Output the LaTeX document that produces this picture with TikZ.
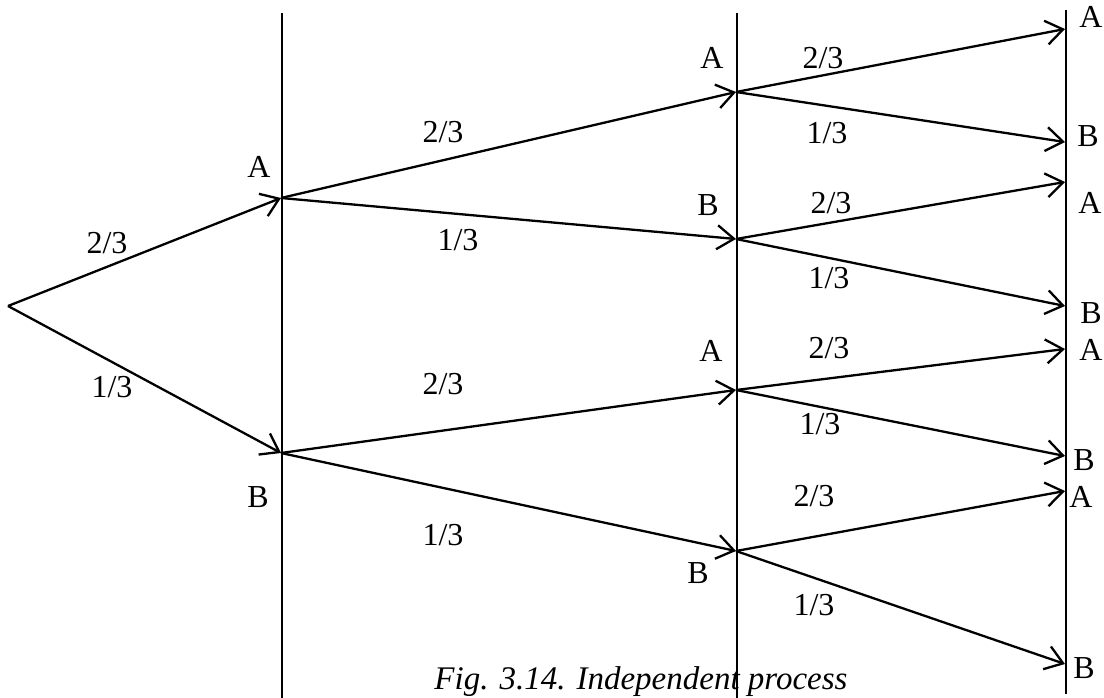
\documentclass[tikz,border=0pt]{standalone}
\usepackage{fontspec}
\setmainfont{Liberation Serif}
\usetikzlibrary{arrows.meta}
\begin{document}
\begin{tikzpicture}[x=1pt,y=-1pt,
  edge/.style={line width=2.3pt,-{Straight Barb[length=17pt,width=24pt,line width=2.3pt]}},
  axis/.style={line width=2pt},
  lbl/.style={font=\fontsize{32}{32}\selectfont,inner sep=0pt},
  captext/.style={font=\fontsize{33}{33}\selectfont\itshape,inner sep=0pt}]
\useasboundingbox (0,0) rectangle (1104,698);
% vertical lines
\coordinate (v1t) at (282,13); \coordinate (v1b) at (282,698);
\coordinate (v2t) at (737,13); \coordinate (v2b) at (737,698);
\coordinate (v3t) at (1066,10); \coordinate (v3b) at (1066,694);
\draw[axis] (v1t) -- (v1b);
\draw[axis] (v2t) -- (v2b);
\draw[axis] (v3t) -- (v3b);
% points
\coordinate (r) at (8,306);
\coordinate (a1) at (281,198);
\coordinate (b1) at (281,453);
\coordinate (aa) at (736,92);
\coordinate (ab) at (736,239);
\coordinate (ba) at (736,390);
\coordinate (bb) at (736,551);
\coordinate (e1) at (1065,29);
\coordinate (e2) at (1065,142);
\coordinate (e3) at (1065,182);
\coordinate (e4) at (1065,306);
\coordinate (e5) at (1065,349);
\coordinate (e6) at (1065,456);
\coordinate (e7) at (1065,491);
\coordinate (e8) at (1065,664);
% edges
\draw[edge] (r) -- (a1);
\draw[edge] (r) -- (b1);
\draw[edge] (a1) -- (aa);
\draw[edge] (a1) -- (ab);
\draw[edge] (b1) -- (ba);
\draw[edge] (b1) -- (bb);
\draw[edge] (aa) -- (e1);
\draw[edge] (aa) -- (e2);
\draw[edge] (ab) -- (e3);
\draw[edge] (ab) -- (e4);
\draw[edge] (ba) -- (e5);
\draw[edge] (ba) -- (e6);
\draw[edge] (bb) -- (e7);
\draw[edge] (bb) -- (e8);
% labels
\node[lbl] (p1) at (107,243) {2/3};
\node[lbl] (p2) at (112,387) {1/3};
\node[lbl] (la1) at (259,167) {A};
\node[lbl] (lb1) at (258,497) {B};
\node[lbl] (p3) at (443,132) {2/3};
\node[lbl] (p4) at (458,240) {1/3};
\node[lbl] (p5) at (443,384) {2/3};
\node[lbl] (p6) at (443,535) {1/3};
\node[lbl] (laa) at (712,58) {A};
\node[lbl] (lab) at (708,205) {B};
\node[lbl] (lba) at (711,351) {A};
\node[lbl] (lbb) at (698,573) {B};
\node[lbl] (q1) at (823,58) {2/3};
\node[lbl] (q2) at (827,133) {1/3};
\node[lbl] (q3) at (831,203) {2/3};
\node[lbl] (q4) at (829,278) {1/3};
\node[lbl] (q5) at (829,348) {2/3};
\node[lbl] (q6) at (820,424) {1/3};
\node[lbl] (q7) at (814,496) {2/3};
\node[lbl] (q8) at (814,605) {1/3};
\node[lbl] (t1) at (1091,17) {A};
\node[lbl] (t2) at (1088,136) {B};
\node[lbl] (t3) at (1090,203) {A};
\node[lbl] (t4) at (1091,313) {B};
\node[lbl] (t5) at (1091,350) {A};
\node[lbl] (t6) at (1084,460) {B};
\node[lbl] (t7) at (1081,497) {A};
\node[lbl] (t8) at (1084,668) {B};
\node[captext] (caption) at (641,682) {Fig. 3.14. Independent process};
\end{tikzpicture}
\end{document}
